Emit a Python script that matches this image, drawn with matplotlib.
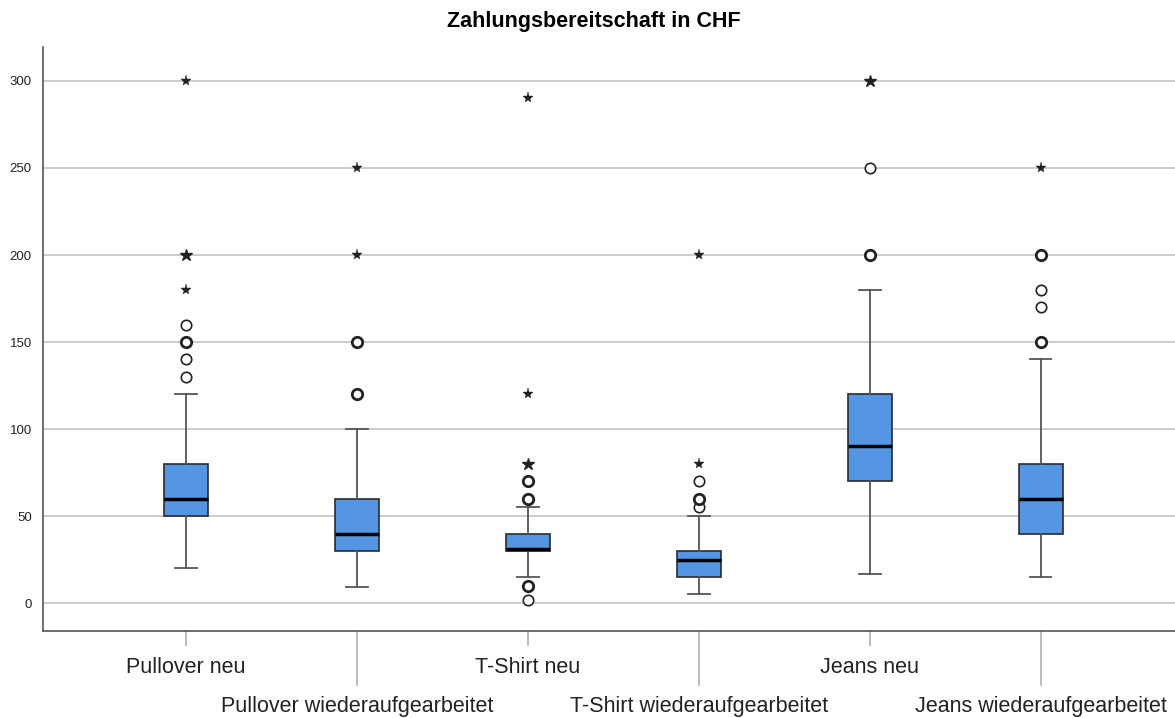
import matplotlib
matplotlib.use("Agg")
import matplotlib.pyplot as plt
from collections import Counter

# categories and box statistics
categories = ["Pullover neu", "Pullover wiederaufgearbeitet", "T-Shirt neu",
              "T-Shirt wiederaufgearbeitet", "Jeans neu", "Jeans wiederaufgearbeitet"]
whisker_low = [20, 9, 15, 5, 17, 15]
q1 = [50, 30, 30, 15, 70, 40]
median = [60, 40, 31, 25, 90, 60]
q3 = [80, 60, 40, 30, 120, 80]
whisker_high = [120, 100, 55, 50, 180, 140]

# outliers (circles) and extreme values (stars), repeated values drawn bolder
outliers = [
    [130, 140, 150, 150, 160],
    [120, 120, 150, 150],
    [2, 10, 10, 60, 60, 70, 70],
    [55, 60, 60, 70],
    [200, 200, 250],
    [150, 150, 170, 180, 200, 200],
]
extremes = [
    [180, 200, 200, 300],
    [200, 250],
    [80, 80, 120, 290],
    [80, 200],
    [300, 300],
    [250],
]
yticks = [0, 50, 100, 150, 200, 250, 300]

fig = plt.figure(figsize=(11.75, 7.18), dpi=100)
ax = fig.add_axes([43 / 1175, 1 - 631 / 718, 1 - 43 / 1175, (631 - 47) / 718])

stats = []
for i, name in enumerate(categories):
    stats.append({"label": name, "whislo": whisker_low[i], "q1": q1[i], "med": median[i],
                  "q3": q3[i], "whishi": whisker_high[i], "fliers": []})

pos = list(range(len(categories)))
ax.bxp(stats, positions=pos, widths=0.26, patch_artist=True, showfliers=False,
       boxprops=dict(facecolor="#5496e3", edgecolor="#2b2b2b", linewidth=1.2),
       medianprops=dict(color="black", linewidth=2.5),
       whiskerprops=dict(color="#555555", linewidth=1.3),
       capprops=dict(color="#555555", linewidth=1.3),
       capwidths=0.125, zorder=3)

# outlier markers
for i in pos:
    for val, n in Counter(outliers[i]).items():
        ax.plot(i, val, marker="o", markersize=7.5, markerfacecolor="white",
                markeredgecolor="#222222", markeredgewidth=1.2 if n == 1 else 2.0,
                linestyle="none", zorder=4)
    for val, n in Counter(extremes[i]).items():
        ax.plot(i, val, marker="*", markersize=8 if n == 1 else 9, color="#222222",
                markeredgewidth=0.3 if n == 1 else 1.0, linestyle="none", zorder=4)

ax.set_xlim(-0.836, 5.785)
ax.set_ylim(-16, 319.5)
ax.set_yticks(yticks)
ax.set_yticklabels([str(t) for t in yticks], fontsize=9.5, family="Liberation Sans", color="#222222")
ax.tick_params(axis="y", length=0, pad=8)
ax.yaxis.grid(True, color="#c4c4c4", linewidth=1.2)
ax.set_axisbelow(True)

ax.set_xticks(pos)
ax.set_xticklabels([])
ax.tick_params(axis="x", length=0)
for i, name in enumerate(categories):
    if i % 2 == 0:
        ax.plot([i, i], [0, -0.024], transform=ax.get_xaxis_transform(), color="#b0b0b0",
                lw=1.2, clip_on=False)
        ax.text(i, -0.062, name, transform=ax.get_xaxis_transform(), ha="center", va="center",
                fontsize=15.5, family="Liberation Sans", color="#222222")
    else:
        ax.plot([i, i], [0, -0.092], transform=ax.get_xaxis_transform(), color="#b0b0b0",
                lw=1.2, clip_on=False)
        ax.text(i, -0.129, name, transform=ax.get_xaxis_transform(), ha="center", va="center",
                fontsize=15.5, family="Liberation Sans", color="#222222")

for s in ["top", "right"]:
    ax.spines[s].set_visible(False)
for s in ["left", "bottom"]:
    ax.spines[s].set_color("#555555")
    ax.spines[s].set_linewidth(1.2)

fig.text(594 / 1175, 1 - 22 / 718, "Zahlungsbereitschaft in CHF", ha="center", va="center",
         fontsize=15.5, fontweight="bold", family="Liberation Sans")

fig.savefig("out.png", dpi=100)
